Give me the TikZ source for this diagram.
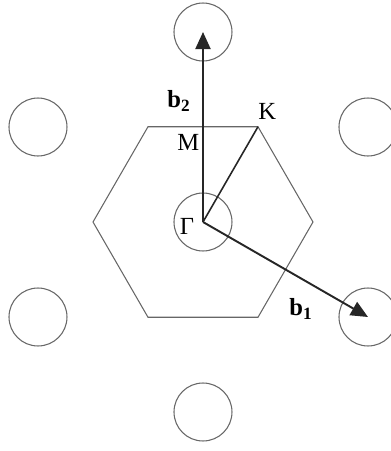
\documentclass[tikz,border=0pt]{standalone}
\usepackage{fontspec}
\setmainfont{Liberation Serif}
\usetikzlibrary{arrows.meta, positioning}

\begin{document}
\begin{tikzpicture}[x=0.02cm, y=0.02cm,
  site/.style={draw=black!60, line width=0.6pt, circle, minimum size=1.16cm, inner sep=0pt},
  zone/.style={draw=black!60, line width=0.6pt},
  vec/.style={draw=black!85, line width=1.1pt, -{Triangle[length=0.34cm, width=0.3cm]}},
  gkline/.style={draw=black!85, line width=0.9pt},
  lbl/.style={font=\fontsize{14}{16}\selectfont, inner sep=1pt}
]
  \useasboundingbox (-203,-229) rectangle (188,222);

  % reciprocal lattice sites
  \node[site] (G)   at (0,0) {};
  \node[site] (top) at (0,190) {};
  \node[site] (bot) at (0,-190) {};
  \node[site] (lt)  at (-165,95) {};
  \node[site] (rt)  at (165,95) {};
  \node[site] (lb)  at (-165,-95) {};
  \node[site] (rb)  at (165,-95) {};

  % first Brillouin zone
  \draw[zone] (0:110) -- (60:110) -- (120:110) -- (180:110) -- (240:110) -- (300:110) -- cycle;
  \coordinate (K) at (60:110);
  \coordinate (M) at (90:95);

  \draw[gkline] (G.center) -- (K);
  \draw[vec] (G.center) -- (top.center);
  \draw[vec] (G.center) -- (rb.center);

  \node[lbl] at (-16,-4) {Γ};
  \node[lbl, above right=3pt and -1pt of K] {K};
  \node[lbl, below left=3pt and 1pt of M] {M};
  \node[lbl] at (-24,121) {\textbf{b}\textsubscript{\textbf{2}}};
  \node[lbl] at (98,-87) {\textbf{b}\textsubscript{\textbf{1}}};
\end{tikzpicture}
\end{document}
